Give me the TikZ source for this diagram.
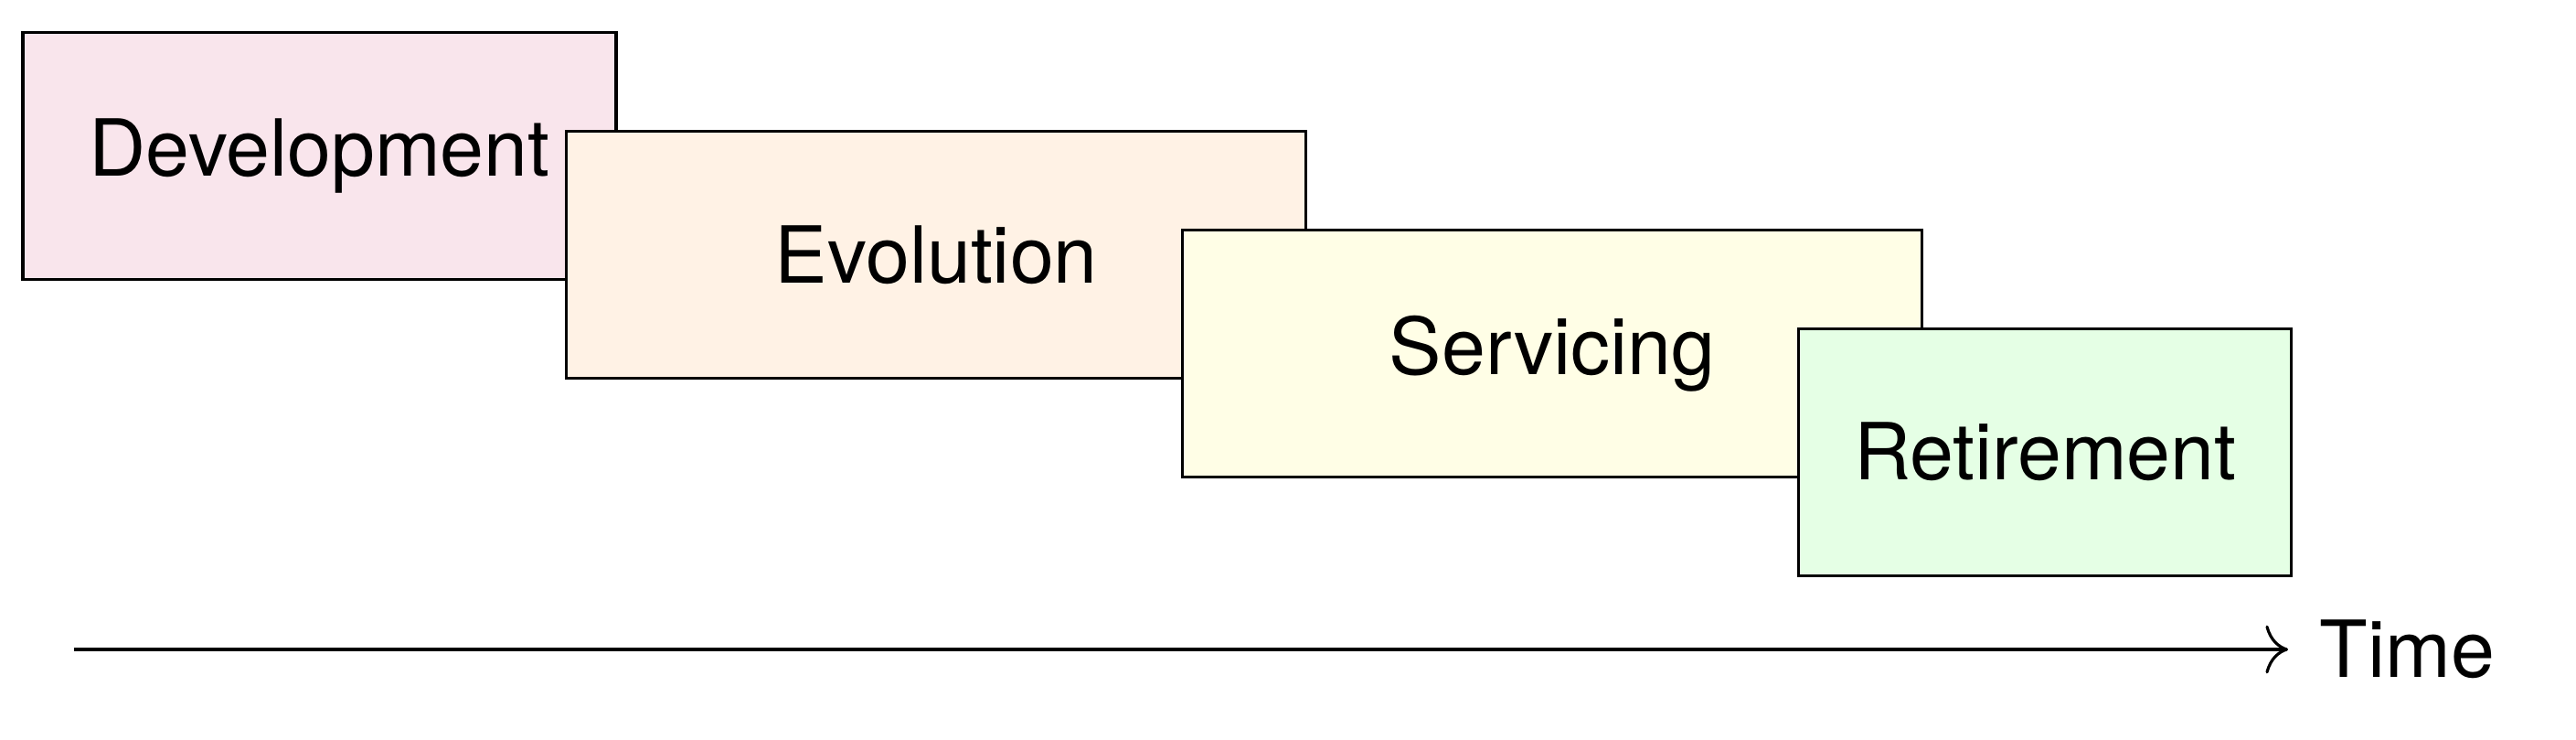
\documentclass[tikz,border=0pt]{standalone}
\usepackage{fontspec}
\setmainfont{TeX Gyre Heros}
\usetikzlibrary{arrows.meta}

\tikzset{
  phase/.style={draw, rectangle, line width=0.9pt, minimum height=2.7cm,
    inner sep=0pt, font=\fontsize{24.5}{28}\selectfont},
  >={To[length=7pt, width=15pt]}
}

\begin{document}
\begin{tikzpicture}
          \useasboundingbox (0,0) rectangle (28.18,-8.09);

          % Phases (later ones drawn on top)
          \node[phase, fill=purple!10, minimum width=6.49cm] (dev) at (3.495,-1.707) {Development};
          \node[phase, fill=orange!10, minimum width=8.09cm] (evo) at (10.243,-2.786) {Evolution};
          \node[phase, fill=yellow!10, minimum width=8.09cm] (serv) at (16.982,-3.864) {Servicing};
          \node[phase, fill=green!10, minimum width=5.39cm] (ret) at (22.373,-4.942) {Retirement};

          % Time axis
          \coordinate (t0) at (0.81,-7.10);
          \node[anchor=west, inner xsep=0.34cm, inner ysep=0pt, font=\fontsize{24.5}{28}\selectfont] (time) at (25.03,-7.10) {Time};
          \draw [->, line width=0.9pt] (t0) -- (t0 -| time.west);
        \end{tikzpicture}
\end{document}
